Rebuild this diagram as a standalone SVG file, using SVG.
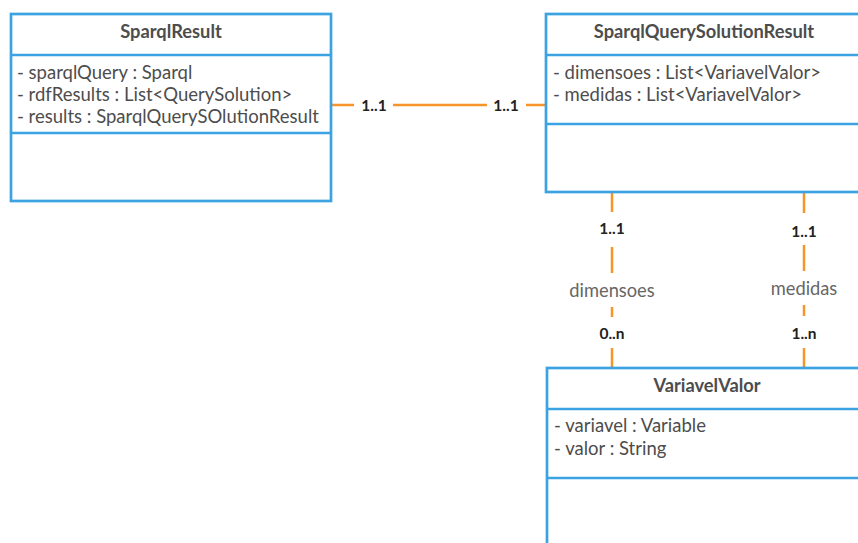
<svg xmlns="http://www.w3.org/2000/svg" width="858" height="543" viewBox="0 0 858 543">
<style>
.box{fill:#fff;stroke:#3ba3e2;stroke-width:2.7}
.div{stroke:#3ba3e2;stroke-width:2.7}
.title{font-family:Lato,"Liberation Sans",sans-serif;font-weight:bold;font-size:18.3px;fill:#4d4d4d;text-anchor:middle}
.attr{font-family:Lato,"Liberation Sans",sans-serif;font-size:18.5px;fill:#4d4d4d}
.conn{stroke:#f7942a;stroke-width:2.5;fill:none}
.mult{font-family:Lato,"Liberation Sans",sans-serif;font-weight:bold;font-size:15.5px;fill:#222;text-anchor:middle}
.role{font-family:Lato,"Liberation Sans",sans-serif;font-size:18.3px;fill:#666;text-anchor:middle}
</style>
<rect width="858" height="543" fill="#fff"/>
<g id="connectors">
<path class="conn" d="M331 105H354M393 105H487M526 105H546"/>
<path class="conn" d="M612 192V212M612 247V273M612 307V317M612 348V368"/>
<path class="conn" d="M804 192V213M804 245V271M804 305V316M804 348V368"/>
<text class="mult" x="374" y="110.5">1..1</text>
<text class="mult" x="506" y="110.5">1..1</text>
<text class="mult" x="612" y="233.5">1..1</text>
<text class="role" x="612" y="297">dimensoes</text>
<text class="mult" x="612" y="338.5">0..n</text>
<text class="mult" x="804" y="236.5">1..1</text>
<text class="role" x="804" y="295">medidas</text>
<text class="mult" x="804" y="338.5">1..n</text>
</g>
<g id="SparqlResult">
<rect class="box" x="11" y="14" width="320" height="187"/>
<line class="div" x1="11" y1="55" x2="331" y2="55"/>
<line class="div" x1="11" y1="133" x2="331" y2="133"/>
<text class="title" x="171" y="37.5">SparqlResult</text>
<text class="attr" x="17" y="78.5">- sparqlQuery : Sparql</text>
<text class="attr" x="17" y="101">- rdfResults : List&lt;QuerySolution&gt;</text>
<text class="attr" x="17" y="123">- results : SparqlQuerySOlutionResult</text>
</g>
<g id="SparqlQuerySolutionResult">
<rect class="box" x="546" y="14" width="320" height="178"/>
<line class="div" x1="546" y1="55" x2="866" y2="55"/>
<line class="div" x1="546" y1="124" x2="866" y2="124"/>
<text class="title" x="704" y="37.5">SparqlQuerySolutionResult</text>
<text class="attr" x="553" y="78.5">- dimensoes : List&lt;VariavelValor&gt;</text>
<text class="attr" x="553" y="101">- medidas : List&lt;VariavelValor&gt;</text>
</g>
<g id="VariavelValor">
<rect class="box" x="547" y="368" width="320" height="200"/>
<line class="div" x1="547" y1="409" x2="867" y2="409"/>
<line class="div" x1="547" y1="478" x2="867" y2="478"/>
<text class="title" x="707" y="391.5">VariavelValor</text>
<text class="attr" x="554" y="432">- variavel : Variable</text>
<text class="attr" x="554" y="454.5">- valor : String</text>
</g>
</svg>
